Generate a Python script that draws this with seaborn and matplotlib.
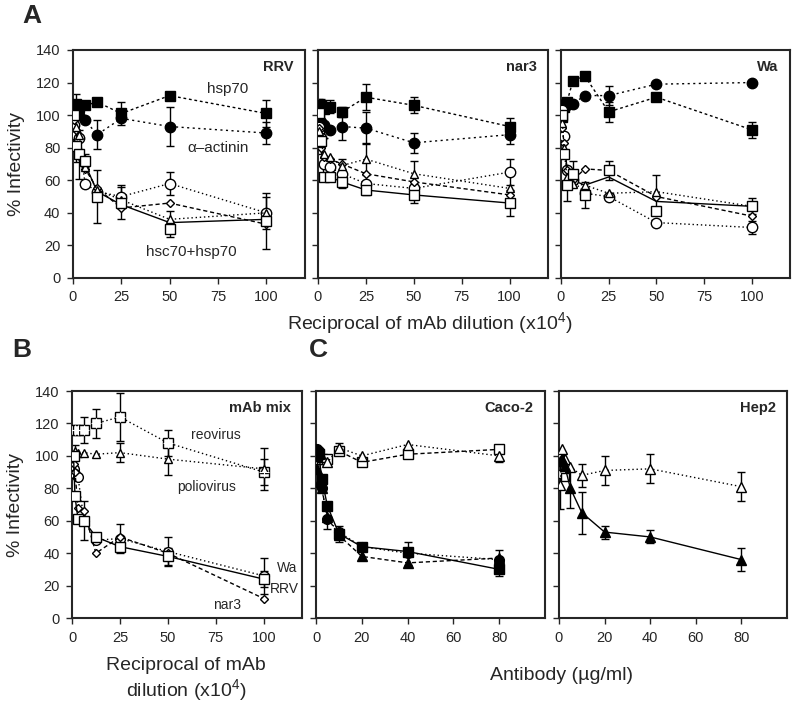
import numpy as np
import seaborn as sns
import matplotlib.pyplot as plt

# dilution series (x10^4) and antibody doses (ug/ml)
x_dil = [0.78, 1.56, 3.125, 6.25, 12.5, 25, 50, 100]
x_reo = [1.56, 3.125, 6.25, 12.5, 25, 50, 100]
x_ab = [0.6, 1.25, 2.5, 5, 10, 20, 40, 80]
x_hep_sq = [0.6, 1.25, 2.5]

# A: RRV
rrv_hsp70 = [103, 107, 105, 106, 108, 101, 112, 101]
rrv_hsp70_err = [4, 6, 0, 0, 2, 7, 0, 8]
rrv_actinin = [100, 103, 100, 97, 88, 98, 93, 89]
rrv_actinin_err = [0, 0, 0, 0, 9, 0, 12, 7]
rrv_sq = [100, 81, 76, 72, 50, 46, 30, 35]
rrv_sq_err = [0, 10, 15, 4, 16, 10, 5, 17]
rrv_ci = [94, 88, 86, 58, 53, 50, 58, 40]
rrv_ci_err = [0, 0, 0, 0, 0, 7, 7, 10]
rrv_di = [97, 91, 75, 67, 55, 43, 46, 33]
rrv_tr = [100, 93, 88, 68, 54, 48, 36, 40]
rrv_tr_err = [0, 0, 0, 0, 0, 0, 5, 0]
rrv_fit = [100, 92, 84, 70, 53, 45, 34, 36]

# A: nar3
nar3_hsp70 = [104, 106, 104, 105, 102, 111, 106, 93]
nar3_hsp70_err = [6, 4, 0, 4, 3, 8, 5, 5]
nar3_actinin = [97, 96, 94, 91, 93, 92, 83, 88]
nar3_actinin_err = [0, 0, 8, 0, 8, 10, 6, 6]
nar3_sq = [101, 84, 62, 62, 59, 54, 51, 46]
nar3_sq_err = [0, 8, 0, 0, 4, 3, 5, 8]
nar3_ci = [93, 86, 70, 68, 64, 58, 55, 65]
nar3_ci_err = [0, 0, 0, 0, 0, 0, 0, 8]
nar3_di = [92, 80, 74, 73, 70, 64, 59, 51]
nar3_tr = [90, 83, 76, 74, 69, 73, 64, 55]
nar3_tr_err = [0, 0, 0, 0, 4, 10, 8, 0]

# A: Wa
wa_hsp70 = [99, 105, 108, 121, 124, 102, 111, 91]
wa_hsp70_err = [0, 0, 0, 0, 0, 6, 0, 5]
wa_actinin = [104, 107, 106, 107, 112, 112, 119, 120]
wa_actinin_err = [0, 0, 0, 0, 0, 6, 0, 0]
wa_sq = [100, 76, 57, 64, 51, 66, 41, 44]
wa_sq_err = [0, 0, 10, 8, 8, 6, 0, 5]
wa_ci = [103, 87, 66, 60, 52, 50, 34, 31]
wa_ci_err = [0, 0, 0, 0, 0, 0, 0, 4]
wa_di = [92, 83, 66, 60, 67, 66, 50, 38]
wa_di_err = [0, 0, 0, 0, 6, 0, 0, 0]
wa_tr = [95, 80, 62, 58, 57, 52, 53, 44]
wa_tr_err = [0, 0, 0, 0, 0, 0, 10, 0]
wa_fit = [100, 85, 68, 60, 57, 62, 47, 44]

# B: mAb mix
mix_reo = [116, 116, 116, 120, 124, 108, 90]
mix_reo_err = [0, 0, 8, 9, 15, 8, 8]
mix_polio = [100, 103, 102, 102, 101, 102, 98, 92]
mix_polio_err = [0, 4, 0, 0, 0, 6, 10, 13]
mix_rrv = [100, 75, 61, 60, 50, 44, 38, 24]
mix_rrv_err = [0, 0, 0, 12, 0, 0, 5, 5]
mix_wa = [92, 89, 87, 60, 48, 49, 41, 26]
mix_wa_err = [0, 0, 0, 0, 0, 9, 9, 11]
mix_nar3 = [95, 90, 68, 66, 40, 50, 40, 12]

# C: Caco-2
caco_sq_f = [100, 101, 86, 69, 52, 44, 41, 30]
caco_sq_f_err = [0, 0, 0, 0, 5, 0, 0, 4]
caco_ci_f = [104, 103, 80, 61, 53, 44, 40, 36]
caco_ci_f_err = [0, 0, 0, 6, 0, 0, 7, 6]
caco_tr_f = [92, 84, 80, 62, 51, 38, 34, 37]
caco_sq_o = [100, 98, 98, 98, 103, 96, 101, 104]
caco_sq_o_err = [0, 0, 0, 0, 0, 0, 2, 0]
caco_tr_o = [100, 101, 99, 96, 105, 100, 107, 100]
caco_tr_o_err = [0, 0, 0, 0, 3, 0, 0, 4]

# C: Hep2
hep_tr_f = [97, 98, 94, 80, 65, 53, 50, 36]
hep_tr_f_err = [5, 0, 0, 12, 13, 4, 4, 7]
hep_tr_o = [82, 104, 98, 93, 88, 91, 92, 81]
hep_tr_o_err = [15, 0, 0, 0, 7, 9, 9, 9]
hep_sq_o = [100, 89, 87]

sns.set_style("ticks")
plt.rcParams['font.family'] = ['Liberation Sans', 'DejaVu Sans']
plt.rcParams['mathtext.default'] = 'regular'

DOT = (0, (1, 2))
DOT2 = (0, (1.5, 2.5))
DASH = (0, (3, 2))
SDASH = (0, (2, 2))


def draw(ax, x, y, err=None, marker='s', filled=False, ls='-', ms=7):
    face = 'black' if filled else 'white'
    if err is not None:
        x_e = [a for a, e in zip(x, err) if e > 0]
        y_e = [b for b, e in zip(y, err) if e > 0]
        e_e = [e for e in err if e > 0]
        ax.errorbar(x_e, y_e, yerr=e_e, fmt='none', ecolor='black',
                    elinewidth=1, capsize=3, capthick=1, zorder=2)
    sns.lineplot(x=x, y=y, ax=ax, color='black', linestyle=ls, linewidth=1,
                 marker=marker, markersize=ms, markerfacecolor=face,
                 markeredgecolor='black', markeredgewidth=1,
                 estimator=None, sort=False, zorder=3)


def fit(ax, x, y):
    sns.lineplot(x=x, y=y, ax=ax, color='black', linestyle='-', linewidth=1,
                 estimator=None, sort=False, zorder=2)


def style(ax, xmax, xticks, title, ylabels):
    ax.set_xlim(0, xmax)
    ax.set_ylim(0, 140)
    ax.set_xticks(xticks)
    ax.set_yticks(range(0, 141, 20))
    if not ylabels:
        ax.set_yticklabels([])
    ax.tick_params(direction='out', length=4, width=1, labelsize=10.5, pad=5)
    for s in ax.spines.values():
        s.set_linewidth(1.5)
        s.set_visible(True)
    ax.text(0.95, 0.955, title, transform=ax.transAxes, ha='right', va='top',
            fontsize=10.5, fontweight='bold')


fig = plt.figure(figsize=(7.94, 7.03), dpi=100)

axA1 = fig.add_axes([0.0919, 0.6046, 0.2922, 0.3243])
axA2 = fig.add_axes([0.4005, 0.6046, 0.2897, 0.3243])
axA3 = fig.add_axes([0.7065, 0.6046, 0.2884, 0.3243])
axB = fig.add_axes([0.0907, 0.1209, 0.2897, 0.3229])
axC1 = fig.add_axes([0.3980, 0.1209, 0.2884, 0.3229])
axC2 = fig.add_axes([0.7040, 0.1209, 0.2872, 0.3229])

# panel A
for ax, hsp, hsp_e, act, act_e, sq, sq_e, ci, ci_e, di, tr, tr_e in [
        (axA1, rrv_hsp70, rrv_hsp70_err, rrv_actinin, rrv_actinin_err, rrv_sq, rrv_sq_err,
         rrv_ci, rrv_ci_err, rrv_di, rrv_tr, rrv_tr_err),
        (axA2, nar3_hsp70, nar3_hsp70_err, nar3_actinin, nar3_actinin_err, nar3_sq, nar3_sq_err,
         nar3_ci, nar3_ci_err, nar3_di, nar3_tr, nar3_tr_err),
        (axA3, wa_hsp70, wa_hsp70_err, wa_actinin, wa_actinin_err, wa_sq, wa_sq_err,
         wa_ci, wa_ci_err, wa_di, wa_tr, wa_tr_err)]:
    draw(ax, x_dil, hsp, hsp_e, 's', True, SDASH, 7)
    draw(ax, x_dil, act, act_e, 'o', True, DOT2, 7.5)
    draw(ax, x_dil, ci, ci_e, 'o', False, DOT, 7.5)
    draw(ax, x_dil, di, None, 'D', False, DASH, 4.5)
    draw(ax, x_dil, tr, tr_e, '^', False, DOT, 6)
    draw(ax, x_dil, sq, sq_e, 's', False, 'none', 7)

fit(axA1, x_dil, rrv_fit)
fit(axA2, x_dil, nar3_sq)
fit(axA3, x_dil, wa_fit)

style(axA1, 120, [0, 25, 50, 75, 100], 'RRV', True)
style(axA2, 120, [0, 25, 50, 75, 100], 'nar3', False)
style(axA3, 120, [0, 25, 50, 75, 100], 'Wa', False)

axA1.text(80, 116, 'hsp70', ha='center', va='center', fontsize=11)
axA1.text(75, 80, 'α–actinin', ha='center', va='center', fontsize=11)
axA1.text(61, 16, 'hsc70+hsp70', ha='center', va='center', fontsize=11)

# panel B
draw(axB, x_reo, mix_reo, mix_reo_err, 's', False, DOT, 7)
sns.lineplot(x=x_reo, y=mix_reo, ax=axB, color='black', linestyle='none',
             marker='+', markersize=7, markeredgewidth=0.8, estimator=None, zorder=4)
draw(axB, x_dil, mix_polio, mix_polio_err, '^', False, DOT, 6)
draw(axB, x_dil, mix_wa, mix_wa_err, 'o', False, DOT, 7)
draw(axB, x_dil, mix_nar3, None, 'D', False, DASH, 4.5)
draw(axB, x_dil, mix_rrv, mix_rrv_err, 's', False, '-', 7)
style(axB, 120, [0, 25, 50, 75, 100], 'mAb mix', True)
axB.text(75, 113, 'reovirus', ha='center', va='center', fontsize=10)
axB.text(70, 81, 'poliovirus', ha='center', va='center', fontsize=10)
axB.text(112, 31, 'Wa', ha='center', va='center', fontsize=10)
axB.text(111, 18, 'RRV', ha='center', va='center', fontsize=10)
axB.text(81, 8, 'nar3', ha='center', va='center', fontsize=10)

# panel C
draw(axC1, x_ab, caco_sq_o, caco_sq_o_err, 's', False, DASH, 7)
draw(axC1, x_ab, caco_tr_o, caco_tr_o_err, '^', False, DOT, 6.5)
draw(axC1, x_ab, caco_ci_f, caco_ci_f_err, 'o', True, DOT, 7)
draw(axC1, x_ab, caco_tr_f, None, '^', True, DASH, 6.5)
draw(axC1, x_ab, caco_sq_f, caco_sq_f_err, 's', True, '-', 7)
style(axC1, 100, [0, 20, 40, 60, 80], 'Caco-2', False)

draw(axC2, x_hep_sq, hep_sq_o, None, 's', False, 'none', 6)
draw(axC2, x_ab, hep_tr_o, hep_tr_o_err, '^', False, DOT, 6.5)
draw(axC2, x_ab, hep_tr_f, hep_tr_f_err, '^', True, '-', 7)
style(axC2, 100, [0, 20, 40, 60, 80], 'Hep2', False)

for ax in [axA1, axA2, axA3, axB, axC1, axC2]:
    ax.set_xlabel('')
    ax.set_ylabel('')
axA1.set_ylabel('% Infectivity', fontsize=14, labelpad=8)
axB.set_ylabel('% Infectivity', fontsize=14, labelpad=8)

# labels
fig.text(32 / 794, 1 - 16 / 703, 'A', fontsize=19, fontweight='bold', ha='center', va='center')
fig.text(22 / 794, 1 - 350 / 703, 'B', fontsize=19, fontweight='bold', ha='center', va='center')
fig.text(318 / 794, 1 - 350 / 703, 'C', fontsize=19, fontweight='bold', ha='center', va='center')
fig.text(430 / 794, 1 - 323 / 703, 'Reciprocal of mAb dilution (x10$^4$)',
         fontsize=14, ha='center', va='center')
fig.text(186 / 794, 1 - 666 / 703, 'Reciprocal of mAb', fontsize=14, ha='center', va='center')
fig.text(186 / 794, 1 - 690 / 703, 'dilution (x10$^4$)', fontsize=14, ha='center', va='center')
fig.text(561 / 794, 1 - 675 / 703, 'Antibody (µg/ml)', fontsize=14, ha='center', va='center')

fig.savefig('out.png', dpi=100)
